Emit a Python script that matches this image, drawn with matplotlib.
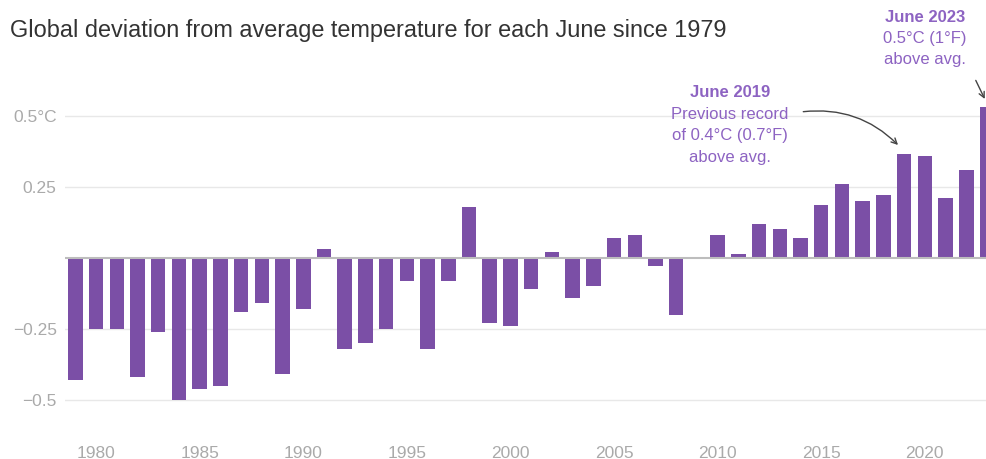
import matplotlib.pyplot as plt

plt.rcParams['font.family'] = ['Liberation Sans', 'DejaVu Sans']

years = list(range(1979, 2024))
anomaly = [-0.43, -0.25, -0.25, -0.42, -0.26, -0.50, -0.46, -0.45, -0.19, -0.16,
           -0.41, -0.18, 0.03, -0.32, -0.30, -0.25, -0.08, -0.32, -0.08, 0.18,
           -0.23, -0.24, -0.11, 0.02, -0.14, -0.10, 0.07, 0.08, -0.03, -0.20,
           0.0, 0.08, 0.015, 0.12, 0.10, 0.07, 0.185, 0.26, 0.20, 0.22,
           0.365, 0.36, 0.21, 0.31, 0.53]
yticks = [-0.5, -0.25, 0, 0.25, 0.5]
ytick_labels = ['\u22120.5', '\u22120.25', '', '0.25', '0.5\u00b0C']
xticks = [1980, 1985, 1990, 1995, 2000, 2005, 2010, 2015, 2020]

note_2019 = ['Previous record', 'of 0.4\u00b0C (0.7\u00b0F)', 'above avg.']
note_2023 = ['0.5\u00b0C (1\u00b0F)', 'above avg.']

bar_color = '#7b4fa6'
note_color = '#8d63c2'
grey = '#aaaaaa'

fig = plt.figure(figsize=(9.87, 4.59), dpi=100)
ax = fig.add_axes([65 / 987, 1 - 425 / 459, 1 - 65 / 987, (425 - 60) / 459])

for y in yticks:
    if y == 0:
        ax.axhline(0, color='#bdbdbd', lw=1.5, zorder=3)
    else:
        ax.axhline(y, color='#e8e8e8', lw=1, zorder=0)

ax.bar(years, anomaly, width=0.7, color=bar_color, zorder=2)

ax.set_xlim(1978.5, 2023)
ax.set_ylim(-(425 - 257.85) / 284.3, (257.85 - 60) / 284.3)
ax.set_xticks(xticks)
ax.set_xticklabels([str(x) for x in xticks])
ax.set_yticks(yticks)
ax.set_yticklabels(ytick_labels)
ax.tick_params(length=0, colors=grey, labelsize=12.5)
ax.tick_params(axis='x', pad=15)
ax.tick_params(axis='y', pad=6)
for s in ax.spines.values():
    s.set_visible(False)

fig.text(10 / 987, 1 - 30 / 459,
         'Global deviation from average temperature for each June since 1979',
         fontsize=16.9, color='#333333', va='center', ha='left')

step = 21.5 / 284.3  # one text line in data units

# June 2019 note
ax.text(2010.6, 0.580, 'June 2019', color=note_color, fontsize=12, fontweight='bold',
        ha='center', va='center')
for i, line in enumerate(note_2019):
    ax.text(2010.6, 0.580 - (i + 1) * step, line, color=note_color, fontsize=12,
            ha='center', va='center')
ax.annotate('', xy=(2018.8, 0.39), xytext=(2014.0, 0.513),
            arrowprops=dict(arrowstyle='->', color='#444444', lw=1,
                            connectionstyle='arc3,rad=-0.25'),
            annotation_clip=False)

# June 2023 note
ax.text(2020.0, 0.844, 'June 2023', color=note_color, fontsize=12, fontweight='bold',
        ha='center', va='center')
for i, line in enumerate(note_2023):
    ax.text(2020.0, 0.844 - (i + 1) * step * 0.97, line, color=note_color, fontsize=12,
            ha='center', va='center')
ax.annotate('', xy=(2022.95, 0.55), xytext=(2022.4, 0.633),
            arrowprops=dict(arrowstyle='->', color='#444444', lw=1),
            annotation_clip=False)

fig.savefig('out.png', dpi=100)
